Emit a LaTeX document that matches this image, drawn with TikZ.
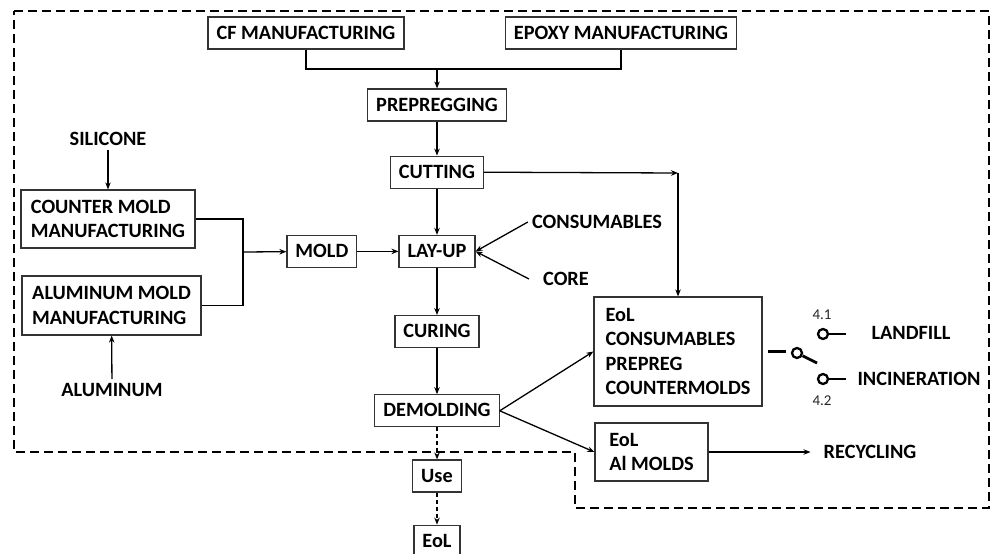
\documentclass[tikz,border=0pt]{standalone}
\usepackage{fontspec}
\setmainfont{Carlito}
\usetikzlibrary{positioning,arrows.meta}

\newcommand{\boxfont}{\bfseries\fontsize{20.3}{24.5}\selectfont}

\tikzset{
  box/.style={draw=black!80, line width=1.2pt, font=\boxfont, inner xsep=8.5pt,
    minimum height=32pt, text height=13pt, text depth=1pt},
  mbox/.style={draw=black!80, line width=1.2pt, font=\boxfont, align=left, inner sep=0pt},
  lbl/.style={font=\boxfont, inner sep=4pt},
  num/.style={font=\fontsize{15}{17}\selectfont, text=black!85, inner sep=0pt},
  link/.style={line width=1.3pt},
  flow/.style={line width=1.3pt, dash pattern=on 4pt off 3pt},
  bound/.style={line width=2.8pt, dash pattern=on 9pt off 5pt},
  swl/.style={line width=2.8pt},
  term/.style={circle, draw, line width=2.3pt, minimum size=10pt, inner sep=0pt},
}

\begin{document}
\begin{tikzpicture}[x=1pt,y=-1pt,>={Stealth[length=7pt,width=5.5pt]}]
  \useasboundingbox (0,0) rectangle (993,554);

  % main line
  \node[box] (cf) at (306,33) {CF MANUFACTURING};
  \node[box] (epx) at (621,33) {EPOXY MANUFACTURING};
  \node[box] (prep) at (437,105) {PREPREGGING};
  \node[box] (cut) [below=34pt of prep] {CUTTING};
  \node[box] (lay) [below=46pt of cut] {LAY-UP};
  \node[box] (cur) [below=47pt of lay] {CURING};
  \node[box] (dem) [below=46pt of cur] {DEMOLDING};
  \node[box] (use) [below=32pt of dem] {Use};
  \node[box] (eol) [below=32pt of use] {EoL};

  % molds
  \node[box] (mold) [left=41pt of lay] {MOLD};
  \node[mbox, minimum width=174pt, minimum height=58pt] (cmm) at (108,219) {COUNTER MOLD\\MANUFACTURING};
  \node[mbox, minimum width=179pt, minimum height=59pt] (amm) at (111.5,305.5) {ALUMINUM MOLD\\MANUFACTURING};
  \node[lbl] (sil) at (108,139) {SILICONE};
  \node[lbl] (alu) at (112,390) {ALUMINUM};
  \node[lbl] (cons) at (597,222) {CONSUMABLES};
  \node[lbl] (core) at (566,279) {CORE};

  % end of life
  \node[mbox, minimum width=168pt, minimum height=109pt] (eol1) at (678,351.5) {EoL\\CONSUMABLES\\PREPREG\\COUNTERMOLDS};
  \node[mbox, minimum width=113pt, minimum height=58pt] (eol2) at (651.5,452) {EoL\\Al MOLDS};
  \node[lbl] (rec) at (870,452) {RECYCLING};
  \node[lbl] (land) at (911,333) {LANDFILL};
  \node[lbl] (inc) at (919,379) {INCINERATION};
  \node[num] (n41) at (822,315) {4.1};
  \node[num] (n42) at (822,401) {4.2};

  % switch
  \node[term] (sw) at (797,353) {};
  \node[term] (t1) at (823,334) {};
  \node[term] (t2) at (823,379) {};
  \coordinate (blade) at (817,363);

  \coordinate (j1) at (437,69);
  \coordinate (j2) at (243,252);
  \coordinate (c1) at (678,173);

  \draw[link] (cf.south) |- (epx.south |- j1) -- (epx.south);
  \draw[link,->] (j1) -- (prep);
  \draw[link,->] (prep) -- (cut);
  \draw[link,->] (cut) -- (lay);
  \draw[link,->] (lay) -- (cur);
  \draw[link,->] (cur) -- (dem);
  \draw[flow,->] (dem) -- (use);
  \draw[flow,->] (use) -- (eol);

  \draw[link,->] (sil) -- (cmm);
  \draw[link,->] (alu) -- (amm);
  \draw[link] (cmm.east) -| (j2);
  \draw[link] (amm.east) -| (j2);
  \draw[link,->] (j2) -- (mold);
  \draw[link,->] (mold) -- (lay);
  \draw[link,->] (cons.west) -- (lay.east);
  \draw[link,->] ([xshift=-10pt]core.west) -- (lay.east);

  \draw[link,->] (cut.east) -- (c1);
  \draw[link,->] (c1) -- (eol1.north);
  \draw[link,->] (dem.east) -- (eol1.west);
  \draw[link,->] (dem.east) -- (eol2.west);
  \draw[link,->] (eol2.east) -- ([xshift=-9pt]rec.west);

  \draw[swl] ([xshift=5pt]eol1.east) -- ([xshift=23pt]eol1.east);
  \draw[swl] (sw) -- (blade);
  \draw[swl] (t1.east) -- ++(17,0);
  \draw[swl] (t2.east) -- ++(17,0);

  % boundary
  \draw[bound] (14,11) -- (989,11) -- (989,508) -- (575,508) -- (575,452) -- (14,452) -- cycle;
\end{tikzpicture}
\end{document}
